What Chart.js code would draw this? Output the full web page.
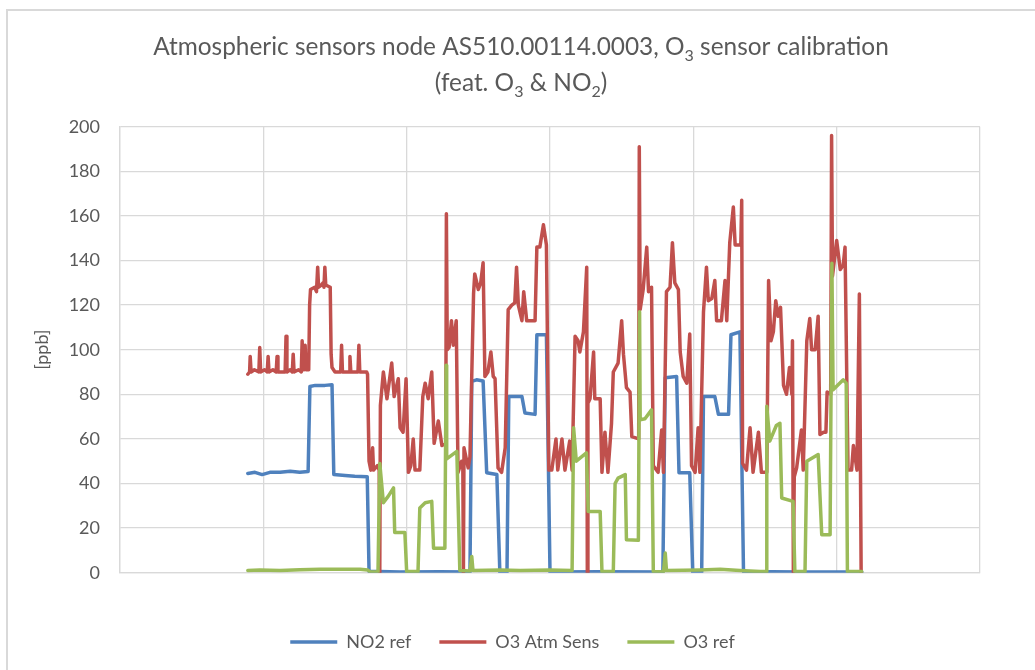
<!DOCTYPE html>
<html>
<head>
<meta charset="utf-8">
<title>AS510.00114.0003 O3 calibration</title>
<script src="https://cdn.jsdelivr.net/npm/chart.js@4.4.1/dist/chart.umd.min.js"></script>
<style>
  html, body { margin: 0; padding: 0; background: #fff; overflow: hidden; }
  #wrap { position: relative; width: 1035px; height: 670px; }
  #wrap canvas { position: absolute; left: 0; top: 0; }
  #frame { position: absolute; left: 6px; top: 9px; width: 1200px; height: 800px;
           border-top: 2px solid #d9d9d9; border-left: 2px solid #d9d9d9; pointer-events: none; }
</style>
</head>
<body>
<div id="wrap">
  <canvas id="chart" width="1035" height="670"></canvas>
  <div id="frame"></div>
</div>
<script>
// Time axis in hours from the start of the record; values in ppb.
// Each series is a list of [hour, ppb] samples.
const no2Ref = [
  [21.4,44.5],[22.6,45],[23.8,44],[25.1,45],[26.8,45],[28.5,45.5],[30.1,45],[31.5,45.4],
  [31.8,83.5],[32.7,84],[34.3,84],[35.5,84.3],[35.8,44],[37.7,43.6],[39.3,43.2],[41.4,43],
  [41.7,0.6],[46.9,0.3],[53.6,0.4],[58.6,0.3],[58.9,85.8],[59.7,86.5],[60.8,86],[61.4,44.8],
  [63.1,44],[63.6,0.3],[64.8,0.3],[65.1,79],[67.3,79],[67.8,71.6],[69.5,71],[69.8,106.7],
  [71.4,106.7],[72.0,0.3],[80.4,0.4],[90.9,0.3],[91.3,87.4],[93.2,88],[93.6,44.8],[95.4,44.8],
  [95.9,0.3],[97.4,0.3],[97.7,79],[99.6,79],[100.2,71],[101.9,71],[102.3,106.7],[103.8,108],
  [104.4,0.5],[113.9,0.3],[124.2,0.3]
];

const o3AtmSens = [
  [21.4,89],[21.7,90],[21.8,97],[21.95,90],[22.5,91],[23.25,90],[23.4,101],[23.55,90],[24.2,91],
  [24.65,90],[24.8,97],[24.95,90],[25.6,91],[26.15,90],[26.3,97],[26.45,90],[27.1,90],[27.65,90],
  [27.8,106],[27.95,90],[28.5,91],[28.85,90],[29.0,98],[29.15,90],[29.9,91],[30.35,90],[30.5,104],
  [30.65,91],[30.85,91],[31.0,102],[31.15,91],[31.6,91],[31.75,120],[31.9,127],[32.6,128],
  [32.9,126],[33.1,137],[33.25,128],[33.7,129],[34.0,130],[34.15,128],[34.3,137],[34.45,129],
  [35.2,128],[35.35,98],[35.5,92],[36.0,90],[36.6,90],[36.95,90],[37.1,102],[37.25,90],[38.35,90],
  [38.5,97],[38.65,90],[39.85,90],[40.0,102],[40.15,90],[41.3,90],[41.45,89],[41.7,50],[42.0,46],
  [42.3,56],[42.45,46],[43.1,48],[43.4,46],[43.5,0],[43.6,75],[44.1,90],[44.7,78],[45.5,94],
  [45.9,79],[46.6,87],[46.9,65],[47.4,63],[47.9,87],[48.3,45],[48.7,48],[49.1,60],[49.4,46],
  [50.2,46],[50.7,79],[51.1,85],[51.6,78],[52.2,90],[52.6,58],[53.3,68],[53.9,57],[54.55,58],
  [54.65,161],[54.8,100],[55.1,101],[55.5,113],[55.8,102],[56.3,113],[56.6,45],[57.2,50],
  [57.4,50],[57.5,0],[57.6,56],[58.3,47],[58.6,52],[59.2,125],[59.4,134],[60.0,127],[60.4,130],
  [60.8,139],[61.1,88],[61.6,90],[62.1,99],[62.5,88],[62.8,87],[63.3,47],[63.9,45],[64.5,56],
  [65.0,118],[65.6,120],[66.1,121],[66.4,137],[66.7,120],[67.3,113],[67.6,126],[68.1,113],
  [69.5,113],[69.8,146],[70.3,146],[70.9,156],[71.4,147],[71.8,46],[72.3,46],[73.0,60],[73.3,46],
  [74.0,60],[74.5,46],[75.3,59],[75.7,46],[76.2,106],[76.7,104],[77.0,99],[77.6,108],[78.15,137],
  [78.25,0],[78.35,76],[78.7,78],[79.3,99],[79.5,78],[80.4,78],[80.7,45],[81.2,63],[81.7,45],
  [82.3,67],[82.6,90],[83.4,94],[84.0,113],[84.3,98],[84.8,83],[85.4,81],[85.7,61],[86.85,60],
  [86.95,191],[87.1,118],[87.6,127],[88.2,146],[88.5,126],[89.0,128],[89.3,48],[90.1,45],
  [90.7,64],[91.0,45],[91.5,126],[92.1,128],[92.5,148],[92.9,130],[93.5,127],[93.8,99],[94.3,88],
  [94.9,85],[95.4,107],[95.7,48],[96.3,45],[96.8,65],[97.1,45],[97.7,117],[98.2,137],[98.5,122],
  [99.1,123],[99.6,131],[99.9,113],[100.7,113],[101.3,131],[101.6,113],[102.1,148],[102.7,164],
  [103.0,147],[103.95,147],[104.1,167],[104.25,49],[104.9,46],[105.5,65],[106.0,45],[106.9,63],
  [107.4,45],[108.3,45],[108.6,131],[109.0,104],[109.4,108],[109.8,122],[110.2,115],[110.6,119],
  [111.1,84],[111.6,80],[112.1,92],[112.5,80],[112.6,104],[112.75,0],[112.9,43],[113.3,47],
  [114.1,64],[114.4,46],[115.0,104],[115.5,114],[115.8,100],[116.4,100],[116.9,115],[117.2,62],
  [117.8,63],[118.2,63],[118.4,81],[119.0,80],[119.15,196],[119.3,133],[120.0,149],[120.6,136],
  [121.1,138],[121.4,146],[121.9,46],[122.5,46],[122.8,57],[123.4,46],[123.8,125],[124.1,0]
];

const o3Ref = [
  [21.4,1],[23.4,1.2],[26.8,1],[30.1,1.3],[33.5,1.5],[36.8,1.6],[40.2,1.5],[41.5,1.2],[41.9,0.3],
  [43.2,0.3],[43.5,49],[44.1,31.4],[44.9,34.2],[45.8,38],[46.0,18],[47.7,18],[48.0,0.5],[49.9,0.5],
  [50.2,29],[51.1,31.4],[52.2,32],[52.5,11],[54.4,11],[54.6,93],[54.7,51],[56.4,54.4],[56.9,1],
  [58.6,0.8],[58.9,7.3],[59.1,1],[63.6,1.2],[67.0,1],[72.0,1.2],[75.7,1],[75.95,65],[76.4,50],
  [78.1,53.7],[78.4,27.5],[80.4,27.5],[80.7,0.5],[82.6,0.5],[82.9,40],[83.4,42.4],[84.6,44],
  [84.8,14.8],[86.8,14.5],[87.0,117],[87.1,68.6],[87.9,69],[89.0,73],[89.3,0.5],[91.0,0.3],
  [91.3,8.8],[91.5,1],[97.1,1.2],[100.5,1.5],[103.8,1],[107.2,0.5],[108.2,0.5],[108.3,74.6],
  [108.8,59],[109.9,66],[110.5,67],[110.8,33.5],[112.7,32],[113.0,0.5],[114.7,0.5],[115.0,50],
  [116.9,53],[117.5,17],[118.9,17],[119.2,138.8],[119.4,82],[121.1,86.5],[121.6,85],[121.8,0.5],
  [124.2,0.5]
];

const seriesLabels = ['NO2 ref', 'O3 Atm Sens', 'O3 ref'];
const seriesColors = ['#4F81BD', '#C0504D', '#9BBB59'];

// Axis range: six day-long divisions, 0–200 ppb
const hourTicks = [0, 24, 48, 72, 96, 120, 144];
const ppbTicks = [0, 20, 40, 60, 80, 100, 120, 140, 160, 180, 200];

// Title with chemical subscripts: [text, isSubscript]
const titleLines = [
  [['Atmospheric sensors node AS510.00114.0003, O', 0], ['3', 1], [' sensor calibration', 0]],
  [['(feat. O', 0], ['3', 1], [' & NO', 0], ['2', 1], [')', 0]]
];

const FONT = 'Lato';
const TEXT = '#595959';
const GRID = '#d9d9d9';

const subscriptTitle = {
  id: 'subscriptTitle',
  afterDraw(chart) {
    const ctx = chart.ctx;
    const mainFont = `24.4px ${FONT}`;
    const subFont = `16px ${FONT}`;
    const centerX = 521;
    const baselines = [55, 91];
    ctx.save();
    ctx.fillStyle = TEXT;
    ctx.textAlign = 'left';
    ctx.textBaseline = 'alphabetic';
    titleLines.forEach((runs, i) => {
      let total = 0;
      runs.forEach(([t, s]) => { ctx.font = s ? subFont : mainFont; total += ctx.measureText(t).width; });
      let x = centerX - total / 2;
      runs.forEach(([t, s]) => {
        ctx.font = s ? subFont : mainFont;
        ctx.fillText(t, x, baselines[i] + (s ? 6 : 0));
        x += ctx.measureText(t).width;
      });
    });
    ctx.restore();
  }
};

function makeSeries(i, samples, order) {
  return {
    label: seriesLabels[i],
    data: samples.map(([x, y]) => ({ x, y })),
    borderColor: seriesColors[i],
    backgroundColor: seriesColors[i],
    borderWidth: 3.5,
    borderJoinStyle: 'round',
    borderCapStyle: 'round',
    pointRadius: 0,
    pointHoverRadius: 0,
    pointStyle: 'line',
    tension: 0,
    fill: false,
    order
  };
}

new Chart(document.getElementById('chart'), {
  type: 'line',
  data: {
    datasets: [
      makeSeries(0, no2Ref, 2),
      makeSeries(1, o3AtmSens, 1),
      makeSeries(2, o3Ref, 0)
    ]
  },
  options: {
    responsive: false,
    animation: false,
    layout: { padding: { left: 45, right: 55, top: 126.7, bottom: 9 } },
    scales: {
      x: {
        type: 'linear',
        min: hourTicks[0],
        max: hourTicks[hourTicks.length - 1],
        afterBuildTicks: s => { s.ticks = hourTicks.map(v => ({ value: v })); },
        ticks: { display: false },
        grid: { color: GRID, lineWidth: 1.3, drawTicks: false },
        border: { color: GRID, width: 1.3 },
        afterFit: s => { s.height = 32.3; }
      },
      y: {
        min: ppbTicks[0],
        max: ppbTicks[ppbTicks.length - 1],
        afterBuildTicks: s => { s.ticks = ppbTicks.map(v => ({ value: v })); },
        ticks: { color: TEXT, font: { family: FONT, size: 18 }, padding: 20 },
        grid: { color: GRID, lineWidth: 1.3, drawTicks: false },
        border: { color: GRID, width: 1.3 },
        title: {
          display: true, text: '[ppb]', color: TEXT,
          font: { family: FONT, size: 18 },
          padding: { top: -14, bottom: 0 }
        },
        afterFit: s => { s.width = 75; }
      }
    },
    plugins: {
      title: { display: false },
      tooltip: { enabled: false },
      legend: {
        position: 'bottom',
        labels: {
          usePointStyle: true,
          pointStyleWidth: 47,
          padding: 28,
          color: TEXT,
          font: { family: FONT, size: 18 },
          sort: (a, b) => a.datasetIndex - b.datasetIndex
        }
      }
    }
  },
  plugins: [subscriptTitle]
});
</script>
</body>
</html>
